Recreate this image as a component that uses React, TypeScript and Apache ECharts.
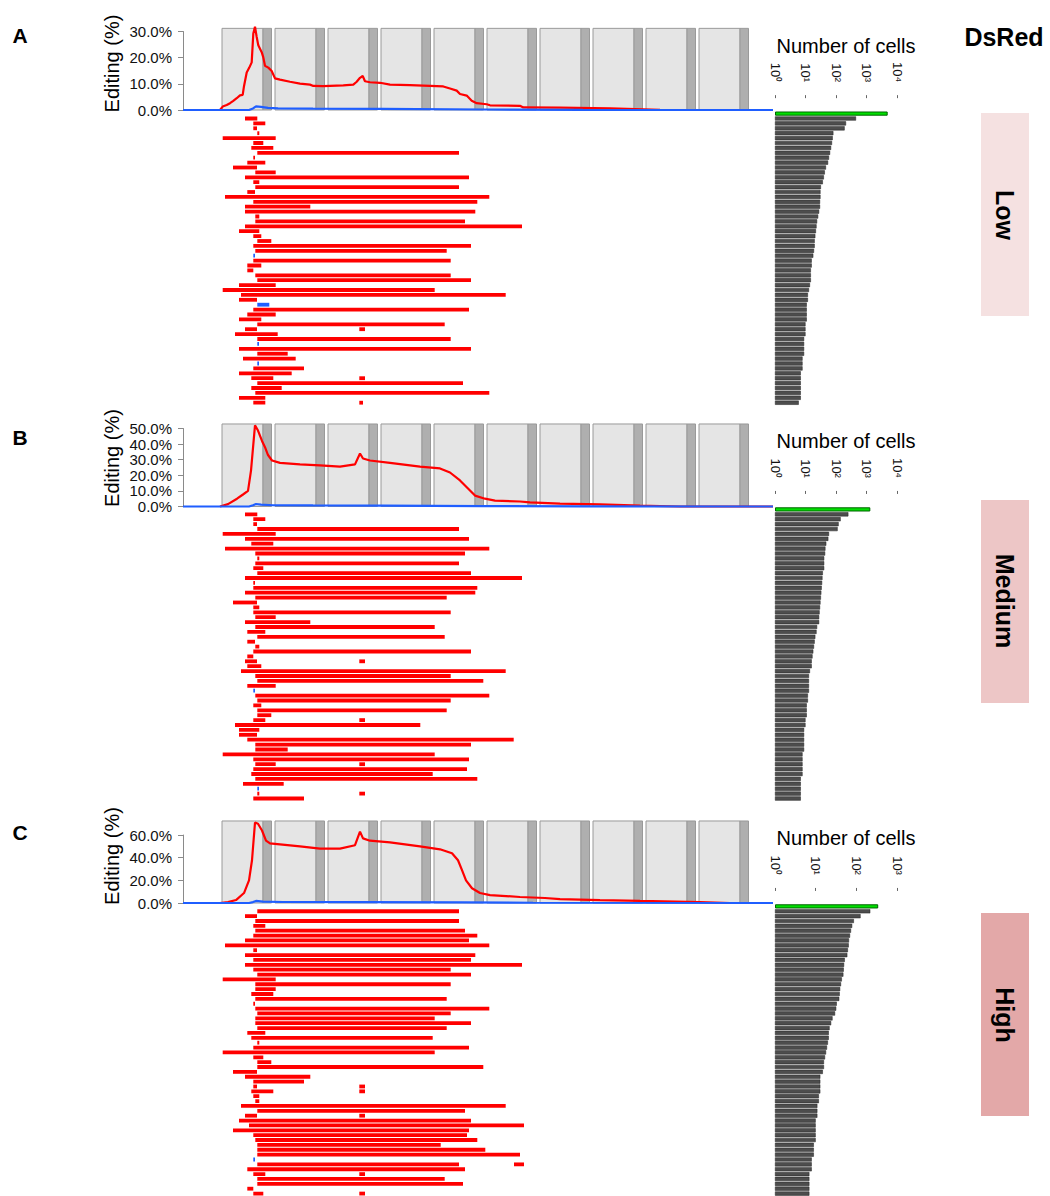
import React, { useEffect, useRef } from "react";
import * as echarts from "echarts";

const FONT = "'Liberation Sans', Arial, Helvetica, sans-serif";
const RED = "#ff0000";
const BLUE = "#1f5eff";

// Amplicon coordinate span shared by the editing track and the allele rows
const AMPLICON_LEN = 590;

// Start of each of the ten sequenced windows along the amplicon
const windowStarts = [39, 92, 145, 198, 251, 304, 357, 410, 463, 516];
const WINDOW_BODY = 41;
const WINDOW_TAIL = 8.5;

// Editing frequency along the amplicon: [position, % of reads]
const deletionA = [
  [37, 0], [39.7, 1.3], [43.7, 1.9], [47, 2.6], [50.3, 3.5], [53.7, 4.5], [57, 5.6], [59.7, 5.8],
  [61, 9.1], [63.7, 14.3], [66.3, 16.2], [68.7, 18.2], [70.3, 29.2], [72, 31.8], [73.7, 27.9],
  [75.3, 24.7], [78.7, 22.1], [80.3, 20.1], [82, 16.9], [85.3, 16.2], [88.7, 14.9], [92, 12.1],
  [97, 11.6], [107, 10.8], [117, 10.1], [127, 9.7], [130.3, 9.2], [140.3, 9.1], [160.3, 9.4],
  [170.3, 9.7], [173.7, 10.8], [177, 12.3], [179.7, 13], [182, 11], [187, 10.6], [197, 10.4],
  [207, 9.7], [227, 9.5], [247, 9.2], [260.3, 9], [267, 8.2], [273.7, 7.4], [277, 6.1],
  [283.7, 5.5], [288.7, 3.5], [293.7, 2.6], [303.7, 2.2], [307, 1.8], [337, 1.6], [340.3, 1.0],
  [377, 0.9], [427, 0.6], [477, 0.1], [493.7, 0], [590, 0],
];
const insertionA = [
  [0, 0], [66, 0], [70, 0.6], [73, 1.4], [78, 1.2], [85, 0.8], [95, 0.6], [130, 0.5],
  [200, 0.4], [300, 0.2], [400, 0.05], [590, 0],
];
const deletionB = [
  [37, 0], [45, 1.5], [54, 5], [60, 7.7], [65, 10], [68, 23], [72, 52], [75, 48.7], [79, 42],
  [82, 38], [85, 33], [89, 29.5], [97, 28], [117, 27], [137, 26.3], [157, 25.6], [172, 27],
  [177, 34], [180, 30.8], [187, 29.5], [207, 28], [237, 25.6], [257, 24.4], [267, 21.8],
  [277, 16.7], [282, 13.5], [287, 10.3], [292, 7], [302, 5], [312, 3.8], [337, 3.2],
  [347, 2.6], [377, 1.9], [417, 1.3], [457, 0.6], [497, 0], [590, 0],
];
const insertionB = [
  [0, 0], [66, 0], [70, 0.8], [73, 1.6], [78, 1.2], [90, 0.8], [130, 0.7], [200, 0.6],
  [300, 0.3], [400, 0.1], [590, 0],
];
const deletionC = [
  [37, 0], [45, 0.8], [53, 2.6], [61, 8.8], [66, 20], [69, 37.7], [72, 71], [75, 70], [79, 64],
  [83, 55], [87, 52.6], [97, 51.8], [117, 50], [137, 48], [157, 48], [172, 51], [177, 63],
  [180, 57], [187, 55], [207, 53.5], [237, 50], [257, 47.4], [269, 43.9], [275, 37.7],
  [279, 29], [283, 20], [289, 13], [297, 8.8], [307, 7], [337, 5.3], [362, 4.4], [377, 3.5],
  [417, 2.6], [457, 1.8], [517, 0.9], [547, 0], [590, 0],
];
const insertionC = [
  [0, 0], [66, 0], [70, 0.8], [73, 1.8], [80, 1.2], [100, 0.9], [180, 0.8], [280, 0.5],
  [350, 0.2], [590, 0],
];

// Allele rows (row 0 = unedited): edited spans [start, end, kind], kind 1 = insertion
const allelesA = [
  [],
  [[62, 74.3]], [[70.3, 82.3]], [[70.3, 74]], [[74.3, 76.3]], [[39.7, 92.7]],
  [[70.3, 80.3]], [[68.3, 90.3]], [[74.3, 276]], [[70.3, 72]], [[64.3, 82.3]],
  [[50, 74]], [[72.3, 92.7]], [[62, 286]], [[70.3, 76.3]], [[72.3, 276]],
  [[64.3, 72]], [[42, 306.3]], [[70.3, 294.3]], [[62, 127.3]], [[62, 292.3]],
  [[72.3, 76.3]], [[72.3, 282]], [[62, 339]], [[56, 76.3]], [[70.3, 78.3]],
  [[74.3, 88.3]], [[70.3, 288]], [[72.3, 263.7]], [[70.3, 72, 1]], [[70.3, 267.7]],
  [[64.3, 78.3]], [[64.3, 70.3]], [[72.3, 267.7]], [[74.3, 288]], [[56, 92.7]],
  [[39.7, 251.7]], [[58, 322.7]], [[56, 74]], [[74.3, 86.3, 1]], [[70.3, 286]],
  [[64.3, 92.7]], [[56, 78.3]], [[74.3, 261.7]], [[62, 74], [176.3, 182]], [[52, 94.7]],
  [[74.3, 267.7]], [[74.3, 76, 1]], [[56, 288]], [[74.3, 104.7]], [[60, 112.7]],
  [[74.3, 76, 1]], [[70.3, 121]], [[56, 108.7]], [[68.3, 90.3], [176.3, 182]], [[74.3, 280]],
  [[68.3, 98.7]], [[72.3, 306.3]], [[56, 82.3]], [[70.3, 82.3], [176.3, 180]],
];
const allelesB = [
  [],
  [[62, 74.3]], [[70.3, 82.3]], [[70.3, 74]], [[74.3, 276]], [[39.7, 92.7]],
  [[62, 286]], [[68.3, 90.3]], [[42, 306.3]], [[72.3, 282]], [[74.3, 76.3]],
  [[72.3, 276]], [[70.3, 80.3]], [[74.3, 288]], [[62, 339]], [[70.3, 72]],
  [[70.3, 294.3]], [[62, 292.3]], [[72.3, 263.7]], [[50, 74]], [[70.3, 76.3]],
  [[70.3, 267.7]], [[72.3, 92.7]], [[62, 127.3]], [[72.3, 251.7]], [[64.3, 82.3]],
  [[74.3, 261.7]], [[64.3, 72]], [[72.3, 76.3]], [[70.3, 288]], [[64.3, 70.3]],
  [[62, 74], [176.3, 182]], [[64.3, 78.3]], [[58, 322.7]], [[72.3, 267.7]], [[74.3, 300.3]],
  [[64.3, 92.7]], [[70.3, 72, 1]], [[72.3, 306.3]], [[74.3, 267.7]], [[70.3, 78.3]],
  [[74.3, 263.7]], [[74.3, 88.3]], [[70.3, 82.3], [176.3, 182]], [[52, 237.3]], [[56, 76.3]],
  [[56, 74]], [[64.3, 330.7]], [[72.3, 288]], [[72.3, 104.7]], [[39.7, 251.7]],
  [[70.3, 286]], [[72.3, 92.7], [176.3, 182]], [[70.3, 284]], [[68.3, 249.7]], [[72.3, 294.3]],
  [[60, 100.7]], [[74.3, 76, 1]], [[74.3, 76.3], [176.3, 182]], [[70.3, 121]],
];
const allelesC = [
  [],
  [[74.3, 276]], [[62, 74]], [[72.3, 276]], [[70.3, 82.3]], [[72.3, 282]],
  [[70.3, 294.3]], [[62, 286]], [[42, 306.3]], [[70.3, 74]], [[62, 292.3]],
  [[70.3, 288]], [[62, 339]], [[70.3, 267.7]], [[74.3, 288]], [[39.7, 92.7]],
  [[72.3, 267.7]], [[72.3, 92.7]], [[68.3, 90.3]], [[72.3, 263.7]], [[70.3, 72]],
  [[72.3, 306.3]], [[74.3, 267.7]], [[72.3, 251.7]], [[72.3, 288]], [[74.3, 263.7]],
  [[64.3, 82.3]], [[68.3, 249.7]], [[74.3, 76.3]], [[70.3, 286]], [[39.7, 251.7]],
  [[70.3, 80.3]], [[74.3, 88.3]], [[74.3, 300.3]], [[50, 74]], [[62, 127.3]],
  [[70.3, 121]], [[70.3, 74], [176.3, 182]], [[68.3, 90.3], [176.3, 182]], [[70.3, 76.3]], [[72.3, 76.3]],
  [[58, 322.7]], [[74.3, 282]], [[62, 74], [176.3, 182]], [[56, 288]], [[66, 341]],
  [[50, 286]], [[70.3, 284]], [[72.3, 294.3]], [[74.3, 257.7]], [[74.3, 302.3]],
  [[74.3, 337]], [[70.3, 72, 1]], [[74.3, 276], [331, 341]], [[64.3, 282]], [[70.3, 82.3], [176.3, 182]],
  [[74.3, 261.7]], [[74.3, 280]], [[64.3, 70.3]], [[70.3, 80.3], [176.3, 182]],
];

// Number of cells carrying each allele (row 0 = unedited)
const cellsA = [
  4950, 453, 213, 192, 82, 78, 74, 69, 64, 59,
  55, 47, 43, 40, 37, 32, 31, 31, 30, 30,
  28, 26, 24, 23, 22, 21, 20, 20, 19, 18,
  16, 16, 15, 15, 15, 14, 13, 12, 12, 11,
  11, 11, 11, 10, 10, 10, 9, 9, 9, 9,
  8, 8, 8, 7, 7, 7, 7, 7, 7, 6,
];
const cellsB = [
  1334, 254, 142, 122, 113, 59, 56, 48, 45, 44,
  41, 41, 41, 37, 36, 35, 34, 33, 32, 31,
  30, 29, 28, 28, 24, 23, 21, 20, 19, 18,
  17, 16, 16, 14, 13, 13, 13, 13, 12, 12,
  11, 11, 11, 10, 10, 9, 9, 9, 9, 9,
  8, 8, 8, 8, 8, 7, 7, 7, 7, 7,
];
const cellsC = [
  345, 220, 127, 87, 79, 74, 70, 66, 65, 62,
  60, 52, 50, 49, 48, 44, 42, 40, 39, 38,
  33, 32, 30, 26, 24, 22, 21, 21, 20, 19,
  18, 17, 16, 16, 15, 13, 13, 13, 13, 12,
  12, 11, 11, 11, 10, 10, 10, 10, 10, 9,
  9, 9, 8, 8, 8, 7, 7, 7, 7, 7,
];

const cellTickLabels = ["10\u2070", "10\u00b9", "10\u00b2", "10\u00b3", "10\u2074"];

const panels = [
  { letter: "A", group: "Low", tint: "#f5e1e1", del: deletionA, ins: insertionA, alleles: allelesA, cells: cellsA, yMax: 30, yStep: 10, cellMax: 10000 },
  { letter: "B", group: "Medium", tint: "#edc6c6", del: deletionB, ins: insertionB, alleles: allelesB, cells: cellsB, yMax: 50, yStep: 10, cellMax: 10000 },
  { letter: "C", group: "High", tint: "#e3a8a8", del: deletionC, ins: insertionC, alleles: allelesC, cells: cellsC, yMax: 60, yStep: 20, cellMax: 1000 },
];

// Pixel layout of each panel
const layout = [
  { base: 110, pxPerPct: 2.617, rowsTop: 111.15, windowTop: 31.2, tintY: 113, groupY: 215, letterY: 35, titleY: 63.5, cellsTitleY: 46 },
  { base: 506.5, pxPerPct: 1.56, rowsTop: 506.95, windowTop: 52.9, tintY: 500, groupY: 601, letterY: 437, titleY: 458, cellsTitleY: 441 },
  { base: 903, pxPerPct: 1.133, rowsTop: 903.95, windowTop: 72.4, tintY: 913, groupY: 1015, letterY: 832, titleY: 856, cellsTitleY: 838 },
];

const ROW_H = 4.9;
const TRACK_LEFT = 183;
const CELLS_LEFT = 775;
const CELLS_WIDTH = 122;

function buildOption() {
  const grid: any[] = [];
  const xAxis: any[] = [];
  const yAxis: any[] = [];
  const series: any[] = [];
  const graphic: any[] = [];

  panels.forEach((p, i) => {
    const L = layout[i];
    const gi = i * 3;
    const trackH = p.yMax * L.pxPerPct;
    const nRows = p.cells.length;

    grid.push({ left: TRACK_LEFT, top: L.base - trackH, width: AMPLICON_LEN, height: trackH });
    grid.push({ left: TRACK_LEFT, top: L.rowsTop, width: AMPLICON_LEN, height: ROW_H * nRows });
    grid.push({ left: CELLS_LEFT, top: L.rowsTop, width: CELLS_WIDTH, height: ROW_H * nRows });

    // editing track axes
    xAxis.push({ gridIndex: gi, type: "value", min: 0, max: AMPLICON_LEN, show: false });
    yAxis.push({
      gridIndex: gi,
      type: "value",
      min: 0,
      max: p.yMax,
      interval: p.yStep,
      offset: 3,
      axisLine: { show: true, lineStyle: { color: "#8a8a8a", width: 1 } },
      axisTick: { show: true, length: 5, lineStyle: { color: "#8a8a8a" } },
      axisLabel: {
        formatter: (v: number) => v.toFixed(1) + "%",
        fontSize: 15,
        color: "#111",
        fontFamily: FONT,
        margin: 8,
      },
      splitLine: { show: false },
    });

    // allele rows axes
    xAxis.push({ gridIndex: gi + 1, type: "value", min: 0, max: AMPLICON_LEN, show: false });
    yAxis.push({ gridIndex: gi + 1, type: "value", min: -0.5, max: nRows - 0.5, inverse: true, show: false });

    // cell count axes
    xAxis.push({
      gridIndex: gi + 2,
      type: "log",
      logBase: 10,
      min: 1,
      max: p.cellMax,
      position: "top",
      offset: 13,
      axisLine: { show: false },
      axisTick: { show: true, length: 3, lineStyle: { color: "#666" } },
      axisLabel: {
        rotate: 90,
        margin: 16,
        fontSize: 13,
        color: "#111",
        fontFamily: FONT,
        formatter: (v: number) => cellTickLabels[Math.round(Math.log10(v))] ?? "",
      },
      splitLine: { show: false },
    });
    yAxis.push({
      gridIndex: gi + 2,
      type: "category",
      data: p.cells.map((_, k) => String(k)),
      inverse: true,
      show: false,
    });

    // sequenced windows behind the editing track
    const top = L.windowTop;
    series.push({
      type: "custom",
      xAxisIndex: gi,
      yAxisIndex: gi,
      silent: true,
      clip: false,
      z: 1,
      encode: { x: [0, 1], y: 2 },
      data: windowStarts.flatMap((s) => [
        [s, s + WINDOW_BODY, 0],
        [s + WINDOW_BODY, s + WINDOW_BODY + WINDOW_TAIL, 1],
      ]),
      renderItem: (_params: any, api: any) => {
        const a = api.coord([api.value(0), 0]);
        const b = api.coord([api.value(1), top]);
        return {
          type: "rect",
          shape: { x: a[0], y: b[1], width: b[0] - a[0], height: a[1] - b[1] },
          style: { fill: api.value(2) ? "#afafaf" : "#e5e5e5", stroke: "#9a9a9a", lineWidth: 1 },
        };
      },
    });

    series.push({
      type: "line",
      xAxisIndex: gi,
      yAxisIndex: gi,
      data: p.del,
      showSymbol: false,
      symbol: "none",
      clip: false,
      z: 3,
      lineStyle: { color: RED, width: 2.2 },
    });
    series.push({
      type: "line",
      xAxisIndex: gi,
      yAxisIndex: gi,
      data: p.ins,
      showSymbol: false,
      symbol: "none",
      clip: false,
      z: 4,
      lineStyle: { color: BLUE, width: 2.2 },
    });

    // allele rows
    const segData: number[][] = [];
    p.alleles.forEach((segs: number[][], r: number) => {
      segs.forEach((sg) => segData.push([r, sg[0], sg[1], sg[2] || 0]));
    });
    series.push({
      type: "custom",
      xAxisIndex: gi + 1,
      yAxisIndex: gi + 1,
      silent: true,
      z: 2,
      encode: { x: [1, 2], y: 0 },
      data: segData,
      renderItem: (_params: any, api: any) => {
        const row = api.value(0);
        const a = api.coord([api.value(1), row]);
        const b = api.coord([api.value(2), row]);
        const h = 3.8;
        return {
          type: "rect",
          shape: { x: a[0], y: a[1] - h / 2, width: Math.max(b[0] - a[0], 1.5), height: h },
          style: { fill: api.value(3) ? BLUE : RED },
        };
      },
    });

    // cells per allele
    series.push({
      type: "bar",
      xAxisIndex: gi + 2,
      yAxisIndex: gi + 2,
      barWidth: 4.2,
      silent: true,
      itemStyle: { color: "#4d4d4d", borderColor: "#222", borderWidth: 0.5 },
      data: p.cells.map((v, k) =>
        k === 0 ? { value: v, itemStyle: { color: "#00e000", borderColor: "#006400", borderWidth: 1 } } : v
      ),
    });

    // annotations
    graphic.push({
      type: "text",
      x: 20,
      y: L.letterY,
      style: { text: p.letter, font: `bold 21px ${FONT}`, fill: "#000", align: "center", verticalAlign: "middle", textAlign: "center", textVerticalAlign: "middle" },
    });
    graphic.push({
      type: "text",
      x: 112,
      y: L.titleY,
      rotation: Math.PI / 2,
      style: { text: "Editing (%)", font: `20px ${FONT}`, fill: "#000", align: "center", verticalAlign: "middle", textAlign: "center", textVerticalAlign: "middle" },
    });
    graphic.push({
      type: "text",
      x: 846,
      y: L.cellsTitleY,
      style: { text: "Number of cells", font: `20px ${FONT}`, fill: "#000", align: "center", verticalAlign: "middle", textAlign: "center", textVerticalAlign: "middle" },
    });
    graphic.push({
      type: "rect",
      shape: { x: 981, y: L.tintY, width: 48, height: 203 },
      style: { fill: p.tint },
    });
    graphic.push({
      type: "text",
      x: 1005,
      y: L.groupY,
      rotation: -Math.PI / 2,
      style: { text: p.group, font: `bold 25px ${FONT}`, fill: "#000", align: "center", verticalAlign: "middle", textAlign: "center", textVerticalAlign: "middle" },
    });
  });

  graphic.push({
    type: "text",
    x: 1004,
    y: 37,
    style: { text: "DsRed", font: `bold 25px ${FONT}`, fill: "#000", align: "center", verticalAlign: "middle", textAlign: "center", textVerticalAlign: "middle" },
  });

  return {
    animation: false,
    backgroundColor: "#ffffff",
    textStyle: { fontFamily: FONT },
    grid,
    xAxis,
    yAxis,
    series,
    graphic,
  };
}

export default function App() {
  const ref = useRef<HTMLDivElement>(null);
  useEffect(() => {
    if (!ref.current) return;
    const chart = echarts.init(ref.current, undefined, { renderer: "svg" });
    chart.setOption(buildOption());
    return () => chart.dispose();
  }, []);
  return (
    <div
      ref={ref}
      style={{ position: "absolute", left: 0, top: 0, width: 1050, height: 1196, background: "#fff" }}
    />
  );
}
